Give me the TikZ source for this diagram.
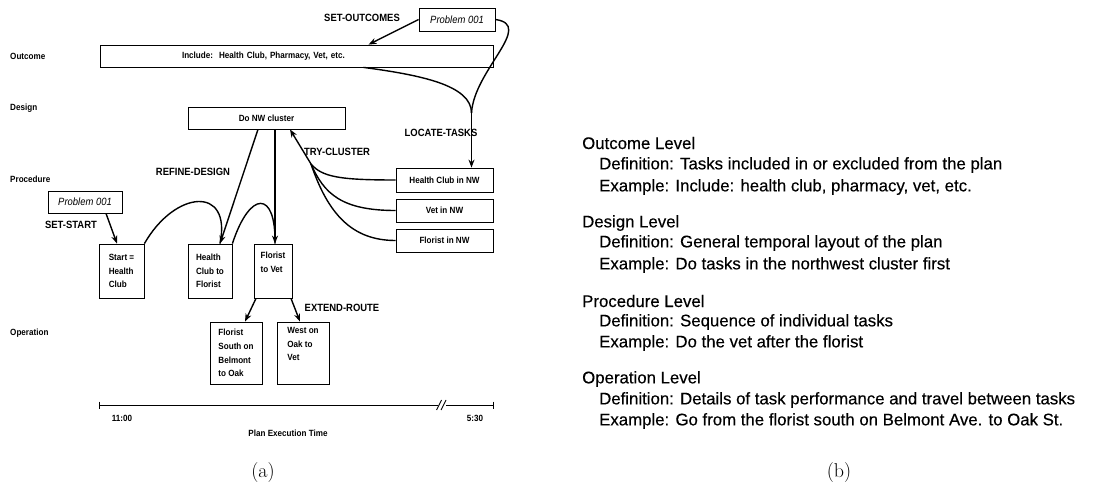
\documentclass[tikz,border=0pt]{standalone}
\usepackage{fontspec}
\usetikzlibrary{arrows.meta}
\newfontfamily\diagfont[FakeStretch=0.9]{Liberation Sans}
\newfontfamily\helv[FakeBold=0.3]{Liberation Sans}
\tikzset{
  box/.style={draw, line width=0.8pt, inner sep=0pt,
    font=\diagfont\bfseries\fontsize{9}{13.6}\selectfont},
  mbox/.style={box, align=left},
  pbox/.style={box, font=\diagfont\itshape\fontsize{10.5}{11}\selectfont},
  arr/.style={-{Stealth[length=8pt,width=6pt]}, line width=1.4pt},
  conn/.style={line width=1.4pt},
  lvl/.style={anchor=west, inner sep=0pt, font=\diagfont\bfseries\fontsize{9}{10}\selectfont},
  elabel/.style={inner sep=0pt, font=\diagfont\bfseries\fontsize{10.5}{11}\selectfont},
  axislabel/.style={inner sep=0pt, font=\diagfont\bfseries\fontsize{9}{10}\selectfont},
  head/.style={anchor=west, inner sep=0pt, font=\helv\fontsize{16.8}{20}\selectfont},
  item/.style={head},
  paneltag/.style={inner sep=0pt, font=\fontsize{20}{22}\selectfont}
}
\begin{document}
\begin{tikzpicture}[x=1pt,y=-1pt]
\useasboundingbox (0,0) rectangle (1113,489);

% ---- level names on the left
\node[lvl] (lOut)  at (10,56)  {Outcome};
\node[lvl] (lDes)  at (10,108) {Design};
\node[lvl] (lProc) at (10,179) {Procedure};
\node[lvl] (lOp)   at (10,333) {Operation};

% ---- boxes
\node[pbox, minimum width=76, minimum height=23] (prob1) at (457,19.5) {Problem 001};
\node[box, minimum width=393, minimum height=22, inner xsep=82, text width=229, align=left]
  (outc) at (296.5,56) {Include:\ \ Health Club, Pharmacy, Vet, etc.};
\node[box, minimum width=157, minimum height=22] (design) at (266.5,118) {Do NW cluster};
\node[box, minimum width=97, minimum height=24] (hcnw) at (444.5,180) {Health Club in NW};
\node[box, minimum width=97, minimum height=23] (vetnw) at (444.5,210.5) {Vet in NW};
\node[box, minimum width=97, minimum height=23] (flnw) at (444.5,240.5) {Florist in NW};
\node[pbox, minimum width=74, minimum height=22] (prob2) at (85,202) {Problem 001};
\node[mbox, minimum width=45, minimum height=54] (start) at (121.5,271) {Start =\\Health\\Club};
\node[mbox, minimum width=44, minimum height=54] (hctof) at (210,271) {Health\\Club to\\Florist};
\node[mbox, minimum width=38, minimum height=54] (ftov) at (273,271) {Florist\\to Vet\\\strut};
\node[mbox, minimum width=52, minimum height=62] (fsouth) at (236,353) {Florist\\South on\\Belmont\\to Oak};
\node[mbox, minimum width=52, minimum height=62] (west) at (303,353) {West on\\Oak to\\Vet\\\strut};

% ---- operator names
\node[elabel] (eSO) at (362,18)  {SET-OUTCOMES};
\node[elabel] (eLT) at (441,133) {LOCATE-TASKS};
\node[elabel] (eTC) at (337,152) {TRY-CLUSTER};
\node[elabel] (eRD) at (193,172) {REFINE-DESIGN};
\node[elabel] (eSS) at (71,225)  {SET-START};
\node[elabel] (eER) at (342,308) {EXTEND-ROUTE};

% ---- junction points
\coordinate (m)  at (471.5,113);
\coordinate (tc) at (311,164);

% ---- connectors
\draw[arr] (prob1.west) -- ([xshift=72]outc.north);
\draw[conn] (prob1.east) .. controls (535,25) and (474,70) .. (m);
\draw[conn] ([xshift=67]outc.south) .. controls (420,75) and (471.5,85) .. (m);
\draw[arr] (m) -- ([xshift=27]hcnw.north);

\draw[conn] (hcnw.west) .. controls (340,180) and (322,177) .. (tc);
\draw[conn] (vetnw.west) .. controls (342,210.5) and (324,194) .. (tc);
\draw[conn] (flnw.west) .. controls (352,240.5) and (328,214) .. (tc);
\draw[arr] (tc) -- ([xshift=23.5]design.south);

\draw[arr] ([xshift=-8.5]design.south) -- ([xshift=10]hctof.north);
\draw[arr] ([xshift=8.5]design.south) -- ([xshift=2]ftov.north);
\draw[conn] (start.north east) .. controls (175,190) and (232,185) .. ([xshift=10]hctof.north);
\draw[conn] (hctof.north east) .. controls (250,190) and (276,190) .. ([xshift=2]ftov.north);

\draw[arr] ([xshift=21]prob2.south) -- ([xshift=-4.5]start.north);

\draw[arr] ([xshift=-17]ftov.south) -- ([xshift=9]fsouth.north);
\draw[arr] ([xshift=18]ftov.south) -- ([xshift=-3]west.north);

% ---- time axis
\coordinate (t0) at (99,405);
\coordinate (t1) at (493,405);
\draw[line width=0.9pt] (t0) -- (t1);
\draw[line width=0.9pt] ([yshift=3.5]t0) -- ([yshift=-3.5]t0);
\draw[line width=0.9pt] ([yshift=3.5]t1) -- ([yshift=-3.5]t1);
\fill[white] (438,402) rectangle (446,408);
\draw[line width=0.9pt] (436.5,410) -- (441.5,400);
\draw[line width=0.9pt] (441,410) -- (446,400);
\node[axislabel] (tStart) at (122,418) {11:00};
\node[axislabel] (tEnd)   at (475,418) {5:30};
\node[axislabel] (tAxis)  at (288,433) {Plan Execution Time};

% ---- definitions of the four levels
\node[head] (hOut) at (582,143) {Outcome Level};
\node[item] (dOut) at (599,165) {Definition: Tasks included in or excluded from the plan};
\node[item] (xOut) at (599,187) {Example: Include: health club, pharmacy, vet, etc.};
\node[head] (hDes) at (582,223) {Design Level};
\node[item] (dDes) at (599,243) {Definition: General temporal layout of the plan};
\node[item] (xDes) at (599,265) {Example: Do tasks in the northwest cluster first};
\node[head] (hProc) at (582,301) {Procedure Level};
\node[item] (dProc) at (599,322) {Definition: Sequence of individual tasks};
\node[item] (xProc) at (599,343) {Example: Do the vet after the florist};
\node[head] (hOp) at (582,379) {Operation Level};
\node[item] (dOp) at (599,400) {Definition: Details of task performance and travel between tasks};
\node[item] (xOp) at (599,421) {Example: Go from the florist south on Belmont Ave. to Oak St.};

% ---- panel captions
\node[paneltag] (capA) at (263,473) {(a)};
\node[paneltag] (capB) at (839,473) {(b)};
\end{tikzpicture}
\end{document}
